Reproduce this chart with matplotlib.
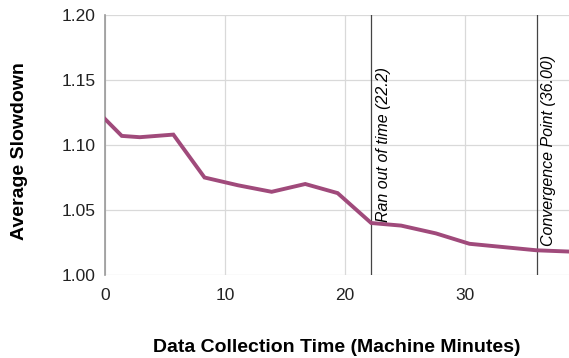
import matplotlib

matplotlib.use("Agg")
import matplotlib.pyplot as plt

plt.rcParams["font.family"] = ["Liberation Sans", "DejaVu Sans"]

# collection time (machine minutes) vs. average slowdown
minutes = [0, 1.4, 2.9, 5.7, 8.3, 11.1, 13.9, 16.7, 19.4, 22.2,
           24.7, 27.6, 30.4, 33.2, 36.0, 38.8]
slowdown = [1.120, 1.107, 1.106, 1.108, 1.075, 1.069, 1.064, 1.070, 1.063, 1.040,
            1.038, 1.032, 1.024, 1.0215, 1.019, 1.018]

markers = [22.2, 36.0]
marker_labels = ["Ran out of time (22.2)", "Convergence Point (36.00)"]
marker_y = [1.041, 1.022]

LINE = "#a04a7b"

fig = plt.figure(figsize=(5.69, 3.58), dpi=100)
ax = fig.add_axes([105 / 569, 1 - 275 / 358, 464 / 569, 260 / 358])

ax.plot(minutes, slowdown, color=LINE, lw=2.8, solid_joinstyle="miter", zorder=3)

for x, lab, y in zip(markers, marker_labels, marker_y):
    ax.axvline(x, color="#444444", lw=0.9, zorder=2)
    ax.text(x + 0.4, y, lab, rotation=90, style="italic", fontsize=11.5,
            ha="left", va="bottom", zorder=4)

ax.set_xlim(0, 38.7)
ax.set_ylim(1.0, 1.2)
ax.set_xticks([0, 10, 20, 30])
ax.set_yticks([1.0, 1.05, 1.1, 1.15, 1.2])
ax.set_yticklabels([f"{v:.2f}" for v in [1.0, 1.05, 1.1, 1.15, 1.2]])
ax.tick_params(length=0, labelsize=12.5, colors="#222222")
ax.tick_params(axis="x", pad=9)
ax.tick_params(axis="y", pad=7)
ax.grid(True, color="#d9d9d9", lw=0.9)
ax.set_axisbelow(True)

for side in ["top", "right", "bottom"]:
    ax.spines[side].set_visible(False)
ax.spines["left"].set_color("#999999")
ax.spines["left"].set_linewidth(1.2)

ax.set_xlabel("Data Collection Time (Machine Minutes)", fontsize=14,
              fontweight="bold")
ax.set_ylabel("Average Slowdown", fontsize=14, fontweight="bold")
ax.xaxis.set_label_coords((337 - 105) / 464, (275 - 348) / 260)
ax.yaxis.set_label_coords((20 - 105) / 464, (275 - 151) / 260)
ax.xaxis.label.set_va("center")
ax.yaxis.label.set_va("center")

fig.savefig("out.png", dpi=100)
